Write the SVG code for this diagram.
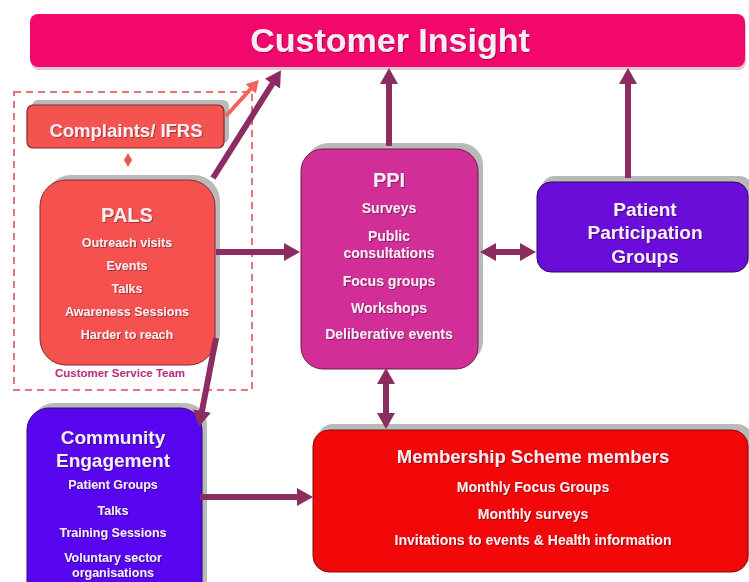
<svg xmlns="http://www.w3.org/2000/svg" width="749" height="582" viewBox="0 0 749 582">
  <defs>
    <style>
      .lbl { font-family: "Liberation Sans", Arial, sans-serif; font-weight: bold; fill: #F7EEF3; text-anchor: middle; filter: url(#txtShadow); }
      .shadow { fill: #B9B9B9; }
      .conn { stroke: #8C2C60; stroke-width: 6; fill: none; }
      .conn-salmon { stroke: #F4625A; stroke-width: 4; fill: none; }
    </style>
    <filter id="txtShadow" x="-10%" y="-30%" width="120%" height="160%">
      <feDropShadow dx="1" dy="1" stdDeviation="0.6" flood-color="#000" flood-opacity="0.35"/>
    </filter>
    <marker id="head" viewBox="0 0 16 18" markerWidth="16" markerHeight="18" refX="2" refY="9" orient="auto-start-reverse" markerUnits="userSpaceOnUse">
      <path d="M0,0 L16,9 L0,18 z" fill="#8C2C60"/>
    </marker>
    <marker id="headSalmon" viewBox="0 0 12 14" markerWidth="12" markerHeight="14" refX="2" refY="7" orient="auto" markerUnits="userSpaceOnUse">
      <path d="M0,0 L12,7 L0,14 z" fill="#F4625A"/>
    </marker>
  </defs>

  <rect width="749" height="582" fill="#FFFFFF"/>

  <!-- Customer Service Team boundary -->
  <g id="customer-service-team">
    <rect x="14" y="92" width="238" height="298" fill="none" stroke="#E8727E" stroke-width="2" stroke-dasharray="7 5"/>
    <text x="120" y="377" font-family="Liberation Sans, Arial, sans-serif" font-weight="bold" font-size="11.5" fill="#B52D7E" text-anchor="middle">Customer Service Team</text>
  </g>

  <!-- Customer Insight -->
  <g id="customer-insight">
    <rect x="31" y="17" width="715" height="53" rx="8" fill="#C9A0B0" opacity="0.6"/>
    <rect x="30" y="14" width="715" height="53" rx="8" fill="#F2076C"/>
    <text class="lbl" x="390" y="52" font-size="34">Customer Insight</text>
  </g>

  <!-- Complaints / IFRS -->
  <g id="complaints">
    <rect class="shadow" x="32" y="100" width="197" height="43" rx="6"/>
    <rect x="27" y="105" width="197" height="43" rx="6" fill="#F5534F" stroke="#7A2A2A" stroke-width="1.2"/>
    <text class="lbl" x="126" y="137" font-size="18.5">Complaints/ IFRS</text>
  </g>

  <!-- link between Complaints and PALS -->
  <path id="diamond" d="M128,153 L132,160 L128,167 L124,160 z" fill="#F0504E"/>

  <!-- PALS -->
  <g id="pals">
    <rect class="shadow" x="45" y="175" width="175" height="185" rx="26"/>
    <rect x="40" y="180" width="175" height="185" rx="26" fill="#F5514E" stroke="#8A2A2A" stroke-width="1"/>
    <text class="lbl" x="127" y="222" font-size="20">PALS</text>
    <text class="lbl" x="127" y="247" font-size="12.5">Outreach visits</text>
    <text class="lbl" x="127" y="270" font-size="12.5">Events</text>
    <text class="lbl" x="127" y="293" font-size="12.5">Talks</text>
    <text class="lbl" x="127" y="316" font-size="12.5">Awareness Sessions</text>
    <text class="lbl" x="127" y="339" font-size="12.5">Harder to reach</text>
  </g>

  <!-- PPI -->
  <g id="ppi">
    <rect class="shadow" x="306" y="143" width="177" height="220" rx="22"/>
    <rect x="301" y="149" width="177" height="220" rx="22" fill="#D12F97" stroke="#6A1A4A" stroke-width="1"/>
    <text class="lbl" x="389" y="187" font-size="20">PPI</text>
    <text class="lbl" x="389" y="213" font-size="14">Surveys</text>
    <text class="lbl" x="389" y="241" font-size="14">Public</text>
    <text class="lbl" x="389" y="258" font-size="14">consultations</text>
    <text class="lbl" x="389" y="286" font-size="14">Focus groups</text>
    <text class="lbl" x="389" y="313" font-size="14">Workshops</text>
    <text class="lbl" x="389" y="339" font-size="14">Deliberative events</text>
  </g>

  <!-- Patient Participation Groups -->
  <g id="ppg">
    <rect class="shadow" x="541" y="176" width="212" height="90" rx="14"/>
    <rect x="537" y="182" width="211" height="90" rx="14" fill="#6A0DD8" stroke="#2A0860" stroke-width="1"/>
    <text class="lbl" x="645" y="216" font-size="19">Patient</text>
    <text class="lbl" x="645" y="239" font-size="19">Participation</text>
    <text class="lbl" x="645" y="263" font-size="19">Groups</text>
  </g>

  <!-- Community Engagement -->
  <g id="community-engagement">
    <rect class="shadow" x="32" y="403" width="175" height="200" rx="22"/>
    <rect x="27" y="408" width="175" height="200" rx="22" fill="#5806F0" stroke="#2A0870" stroke-width="1"/>
    <text class="lbl" x="113" y="444" font-size="19">Community</text>
    <text class="lbl" x="113" y="467" font-size="19">Engagement</text>
    <text class="lbl" x="113" y="489" font-size="12.5">Patient Groups</text>
    <text class="lbl" x="113" y="515" font-size="12.5">Talks</text>
    <text class="lbl" x="113" y="537" font-size="12.5">Training Sessions</text>
    <text class="lbl" x="113" y="562" font-size="12.5">Voluntary sector</text>
    <text class="lbl" x="113" y="577" font-size="12.5">organisations</text>
  </g>

  <!-- Membership Scheme members -->
  <g id="membership">
    <rect class="shadow" x="317" y="424" width="436" height="142" rx="16"/>
    <rect x="313" y="430" width="435" height="142" rx="16" fill="#F20808" stroke="#7A1010" stroke-width="1"/>
    <text class="lbl" x="533" y="463" font-size="18.5">Membership Scheme members</text>
    <text class="lbl" x="533" y="492" font-size="14">Monthly Focus Groups</text>
    <text class="lbl" x="533" y="519" font-size="14">Monthly surveys</text>
    <text class="lbl" x="533" y="545" font-size="14">Invitations to events  &amp; Health information</text>
  </g>

  <!-- Connectors -->
  <g id="connectors">
    <line class="conn-salmon" x1="226" y1="116" x2="252" y2="87.5" marker-end="url(#headSalmon)"/>
    <line class="conn" x1="213" y1="178" x2="273.5" y2="82" marker-end="url(#head)"/>
    <line class="conn" x1="389" y1="146" x2="389" y2="82" marker-end="url(#head)"/>
    <line class="conn" x1="628" y1="178" x2="628" y2="82" marker-end="url(#head)"/>
    <line class="conn" x1="216" y1="252" x2="286" y2="252" marker-end="url(#head)"/>
    <line class="conn" x1="494" y1="252" x2="522" y2="252" marker-start="url(#head)" marker-end="url(#head)"/>
    <line class="conn" x1="386" y1="382" x2="386" y2="415" marker-start="url(#head)" marker-end="url(#head)"/>
    <line class="conn" x1="216" y1="338" x2="201.6" y2="413" marker-end="url(#head)"/>
    <line class="conn" x1="200" y1="497" x2="299" y2="497" marker-end="url(#head)"/>
  </g>
</svg>
